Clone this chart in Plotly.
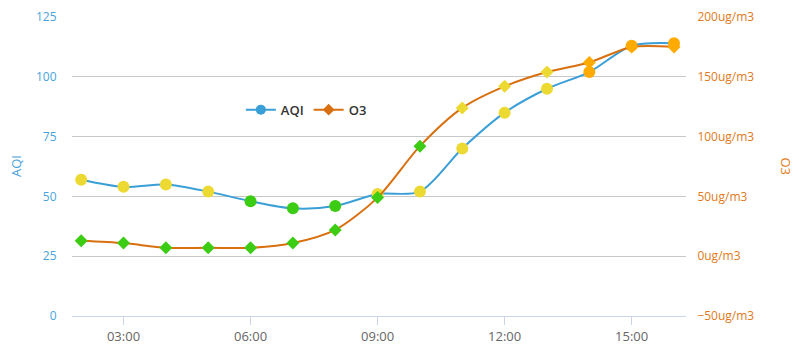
import plotly.graph_objects as go
from datetime import datetime

times = ["02:00", "03:00", "04:00", "05:00", "06:00", "07:00", "08:00", "09:00",
         "10:00", "11:00", "12:00", "13:00", "14:00", "15:00", "16:00"]
aqi = [57, 54, 55, 52, 48, 45, 46, 51, 52, 70, 85, 95, 102, 113, 114]
o3 = [13, 11, 7, 7, 7, 11, 22, 49, 92, 124, 142, 154, 162, 175, 175]
aqi_colors = ["#ecd932"] * 4 + ["#3ccc14"] * 3 + ["#ecd932"] * 5 + ["#ffaa00"] * 3
o3_colors = ["#3ccc14"] * 9 + ["#ecd932"] * 3 + ["#ffaa00"] * 3
x_ticks = ["03:00", "06:00", "09:00", "12:00", "15:00"]

def dt(t):
    h, m = t.split(":")
    return datetime(2020, 1, 1, int(h), int(m))

x = [dt(t) for t in times]
AQI_C = "#3a9fd6"
O3_C = "#d9700f"
FONT = "Open Sans"

fig = go.Figure()
fig.add_trace(go.Scatter(x=x, y=aqi, mode="lines+markers", name="AQI", showlegend=False,
                         line=dict(color=AQI_C, width=2, shape="spline", smoothing=0.8),
                         marker=dict(color=aqi_colors, size=12, symbol="circle"),
                         cliponaxis=False))
fig.add_trace(go.Scatter(x=x, y=o3, mode="lines+markers", name="O3", showlegend=False, yaxis="y2",
                         line=dict(color=O3_C, width=2, shape="spline", smoothing=0.8),
                         marker=dict(color=o3_colors, size=10, symbol="diamond"),
                         cliponaxis=False))
# legend entries
fig.add_trace(go.Scatter(x=[None], y=[None], mode="lines+markers", name="AQI",
                         line=dict(color=AQI_C, width=2), marker=dict(color=AQI_C, size=10)))
fig.add_trace(go.Scatter(x=[None], y=[None], mode="lines+markers", name="O3", yaxis="y2",
                         line=dict(color=O3_C, width=2), marker=dict(color=O3_C, size=9, symbol="diamond")))

fig.update_layout(
    width=799, height=364,
    margin=dict(l=72, r=113, t=17, b=48),
    paper_bgcolor="white", plot_bgcolor="white",
    font=dict(family=FONT, size=12, color="#666666"),
    xaxis=dict(type="date", range=[datetime(2020, 1, 1, 1, 47), datetime(2020, 1, 1, 16, 17)],
               tickvals=[dt(t) for t in x_ticks], ticktext=x_ticks, automargin=False,
               showgrid=False, showline=True, linecolor="#ccd6eb", linewidth=1,
               ticks="outside", ticklen=8, tickcolor="#ccd6eb",
               tickfont=dict(color="#666666", size=13), zeroline=False),
    yaxis=dict(range=[0, 125], dtick=25, showgrid=True, gridcolor="#c8c8c8", gridwidth=1,
               zeroline=False, showline=False, tickfont=dict(color="#4aa3da", size=12),
               ticks="outside", ticklen=12, tickcolor="rgba(0,0,0,0)", automargin=False),
    yaxis2=dict(range=[-50, 200], dtick=50, overlaying="y", side="right", showgrid=False,
                zeroline=False, showline=False, ticksuffix="ug/m3", automargin=False,
                tickfont=dict(color="#e07a20", size=12),
                ticks="outside", ticklen=8, tickcolor="rgba(0,0,0,0)"),
    legend=dict(orientation="h", x=0.275, y=0.69, xanchor="left", yanchor="middle",
                bgcolor="rgba(0,0,0,0)", font=dict(color="#333333", size=13, family=FONT, weight=600),
                itemwidth=30),
    showlegend=True,
    annotations=[
        dict(text="AQI", xref="paper", yref="paper", x=-0.092, y=0.5, showarrow=False,
             textangle=-90, font=dict(color="#4aa3da", size=13), xanchor="center", yanchor="middle"),
        dict(text="O3", xref="paper", yref="paper", x=1.163, y=0.5, showarrow=False,
             textangle=90, font=dict(color="#e07a20", size=13), xanchor="center", yanchor="middle"),
    ],
)

fig.write_html("out.html", config={"displayModeBar": False},
               post_script="document.body.style.margin='0';document.body.style.overflow='hidden';")
